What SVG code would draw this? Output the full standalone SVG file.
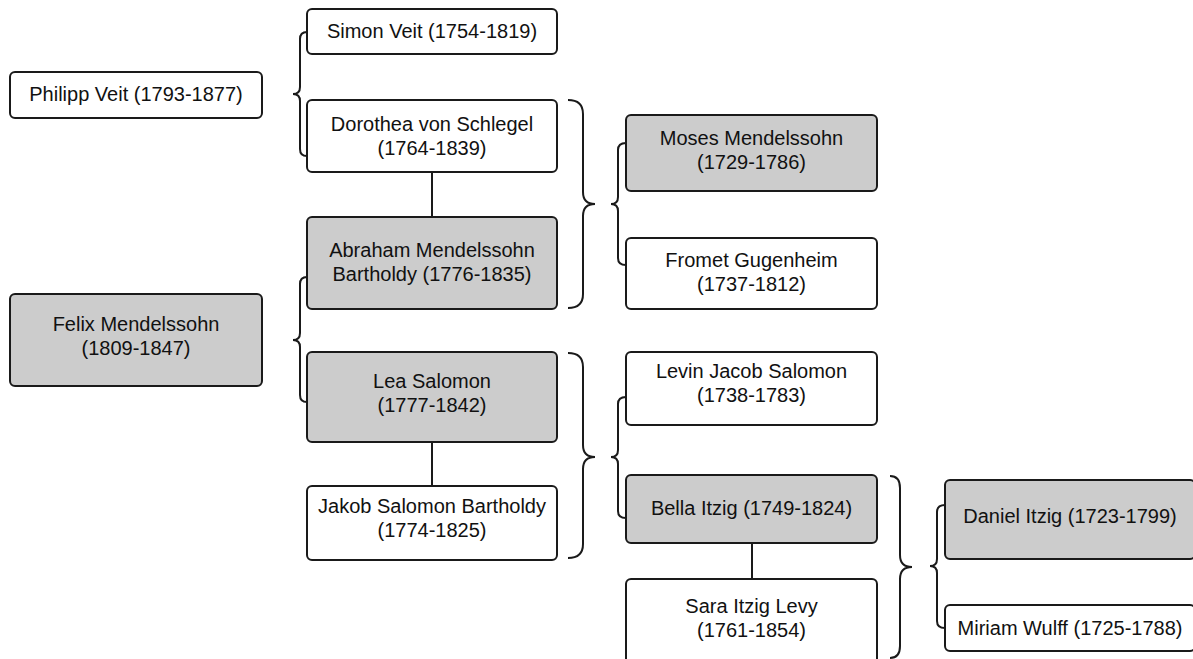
<svg xmlns="http://www.w3.org/2000/svg" width="1193" height="659" viewBox="0 0 1193 659">
<style>
.box{fill:#ffffff;stroke:#1a1a1a;stroke-width:2}
.gray{fill:#cccccc}
.t{font-family:"Liberation Sans",Arial,sans-serif;font-size:20px;fill:#111;text-anchor:middle}
.br{fill:none;stroke:#1a1a1a;stroke-width:2}
</style>
<rect width="1193" height="659" fill="#ffffff"/>
<g id="connectors">
<line class="br" x1="432" y1="172" x2="432" y2="217"/>
<line class="br" x1="432" y1="442" x2="432" y2="486"/>
<line class="br" x1="752" y1="543" x2="752" y2="579"/>
<path class="br" d="M307 32 Q300 32 300 39 L300 87 Q300 94 293 94 Q300 94 300 101 L300 149 Q300 156 307 156"/>
<path class="br" d="M307 277 Q300 277 300 284 L300 333 Q300 340 293 340 Q300 340 300 347 L300 395 Q300 402 307 402"/>
<path class="br" d="M626 143 Q618 143 618 150 L618 197 Q618 204 611 204 Q618 204 618 211 L618 258 Q618 265 626 265"/>
<path class="br" d="M626 397 Q618 397 618 404 L618 450 Q618 457 611 457 Q618 457 618 464 L618 511 Q618 518 626 518"/>
<path class="br" d="M945 505 Q937 505 937 512 L937 559 Q937 566 930 566 Q937 566 937 573 L937 621 Q937 628 945 628"/>
<path class="br" d="M568 100 Q583 100 583 114 L583 192 Q583 204 595 204 Q583 204 583 216 L583 294 Q583 308 568 308"/>
<path class="br" d="M568 353 Q583 353 583 367 L583 445 Q583 457 595 457 Q583 457 583 469 L583 544 Q583 558 568 558"/>
<path class="br" d="M890 476 Q900 476 900 488 L900 555 Q900 567 912 567 Q900 567 900 579 L900 646 Q900 658 890 658"/>
</g>
<g id="philipp"><rect class="box" x="10" y="72" width="252" height="46" rx="5"/><text class="t" x="136" y="101">Philipp Veit (1793-1877)</text></g>
<g id="felix"><rect class="box gray" x="10" y="294" width="252" height="92" rx="5"/><text class="t" x="136" y="331">Felix Mendelssohn</text><text class="t" x="136" y="355">(1809-1847)</text></g>
<g id="simon"><rect class="box" x="307" y="9" width="250" height="45" rx="5"/><text class="t" x="432" y="38">Simon Veit (1754-1819)</text></g>
<g id="dorothea"><rect class="box" x="307" y="100" width="250" height="72" rx="5"/><text class="t" x="432" y="131">Dorothea von Schlegel</text><text class="t" x="432" y="155">(1764-1839)</text></g>
<g id="abraham"><rect class="box gray" x="307" y="217" width="250" height="92" rx="5"/><text class="t" x="432" y="257">Abraham Mendelssohn</text><text class="t" x="432" y="281">Bartholdy (1776-1835)</text></g>
<g id="lea"><rect class="box gray" x="307" y="352" width="250" height="90" rx="5"/><text class="t" x="432" y="388">Lea Salomon</text><text class="t" x="432" y="412">(1777-1842)</text></g>
<g id="jakob"><rect class="box" x="307" y="486" width="250" height="74" rx="5"/><text class="t" x="432" y="513">Jakob Salomon Bartholdy</text><text class="t" x="432" y="537">(1774-1825)</text></g>
<g id="moses"><rect class="box gray" x="626" y="115" width="251" height="76" rx="5"/><text class="t" x="751.5" y="145">Moses Mendelssohn</text><text class="t" x="751.5" y="169">(1729-1786)</text></g>
<g id="fromet"><rect class="box" x="626" y="238" width="251" height="71" rx="5"/><text class="t" x="751.5" y="267">Fromet Gugenheim</text><text class="t" x="751.5" y="291">(1737-1812)</text></g>
<g id="levin"><rect class="box" x="626" y="352" width="251" height="73" rx="5"/><text class="t" x="751.5" y="378">Levin Jacob Salomon</text><text class="t" x="751.5" y="402">(1738-1783)</text></g>
<g id="bella"><rect class="box gray" x="626" y="475" width="251" height="68" rx="5"/><text class="t" x="751.5" y="515">Bella Itzig (1749-1824)</text></g>
<g id="sara"><rect class="box" x="626" y="579" width="251" height="86" rx="5"/><text class="t" x="751.5" y="613">Sara Itzig Levy</text><text class="t" x="751.5" y="637">(1761-1854)</text></g>
<g id="daniel"><rect class="box gray" x="945" y="480" width="250" height="79" rx="5"/><text class="t" x="1070" y="523">Daniel Itzig (1723-1799)</text></g>
<g id="miriam"><rect class="box" x="945" y="605" width="250" height="46" rx="5"/><text class="t" x="1070" y="635">Miriam Wulff (1725-1788)</text></g>
</svg>
